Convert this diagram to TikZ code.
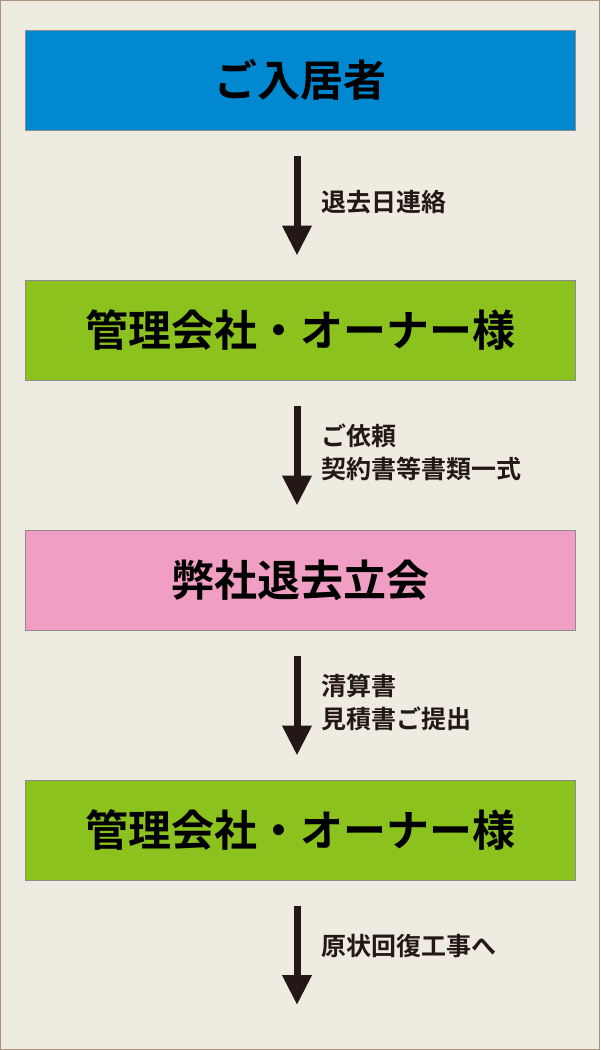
\documentclass[tikz,border=0pt]{standalone}
\usepackage{fontspec}
\newfontfamily\cjk{Noto Sans CJK JP Bold}
\usetikzlibrary{arrows.meta}
\definecolor{bg}{HTML}{EEEBE0}
\definecolor{bluebox}{HTML}{0088D0}
\definecolor{greenbox}{HTML}{8CC21E}
\definecolor{pinkbox}{HTML}{F09EC3}
\definecolor{arr}{HTML}{231815}
\tikzset{
 box/.style={draw=black!45,line width=1pt,minimum width=550pt,minimum height=100pt,inner sep=0pt,font=\cjk\fontsize{43}{48}\selectfont},
 lab/.style={anchor=west,align=left,font=\cjk\fontsize{25}{33}\selectfont,text=arr},
 flow/.style={draw=arr,line width=7pt,-{Triangle[width=28pt,length=30pt]}}
}
\begin{document}
\begin{tikzpicture}[x=1pt,y=-1pt]
\fill[bg,draw=brown!60!black!60,line width=1pt] (0.5,0.5) rectangle (599.5,1049.5);
\useasboundingbox (0,0) rectangle (600,1050);
\node[box,fill=bluebox] (a) at (300,80) {ご入居者};
\node[box,fill=greenbox] (b) at (300,330) {管理会社・オーナー様};
\node[box,fill=pinkbox] (c) at (300,580) {弊社退去立会};
\node[box,fill=greenbox] (d) at (300,830) {管理会社・オーナー様};
\coordinate (e) at (297,1005);
\draw[flow] ([xshift=-3pt,yshift=-25pt]a.south) -- ([xshift=-3pt,yshift=24pt]b.north);
\draw[flow] ([xshift=-3pt,yshift=-25pt]b.south) -- ([xshift=-3pt,yshift=24pt]c.north);
\draw[flow] ([xshift=-3pt,yshift=-25pt]c.south) -- ([xshift=-3pt,yshift=24pt]d.north);
\draw[flow] ([xshift=-3pt,yshift=-25pt]d.south) -- (e);
\node[lab] (l1) at (318,202) {退去日連絡};
\node[lab] (l2) at (318,452) {ご依頼\\契約書等書類一式};
\node[lab] (l3) at (318,702) {清算書\\見積書ご提出};
\node[lab] (l4) at (318,946) {原状回復工事へ};
\end{tikzpicture}
\end{document}
